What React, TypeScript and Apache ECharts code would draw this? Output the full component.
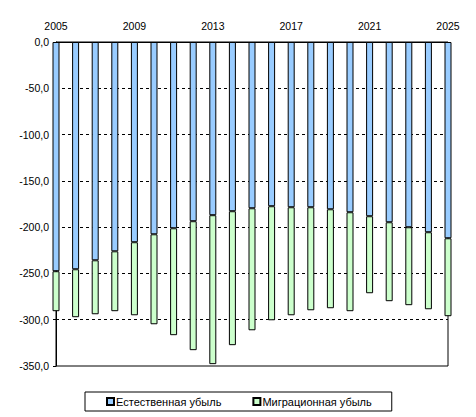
import React, { useEffect, useRef } from "react";
import * as echarts from "echarts";

const years = [
  "2005", "2006", "2007", "2008", "2009", "2010", "2011", "2012", "2013", "2014",
  "2015", "2016", "2017", "2018", "2019", "2020", "2021", "2022", "2023", "2024", "2025",
];
const naturalLoss = [
  -247.6, -245.5, -235.8, -226.1, -216.3, -207.7, -201.2, -193.6, -187.1, -182.8,
  -179.6, -177.4, -178.5, -178.5, -180.7, -183.9, -188.2, -194.7, -200.1, -205.5, -212.0,
];
const migrationLoss = [
  -43.2, -51.8, -58.3, -64.7, -78.9, -97.2, -115.5, -139.3, -160.9, -144.7,
  -131.8, -123.2, -116.7, -111.3, -106.9, -106.9, -83.2, -85.3, -84.2, -83.2, -84.2,
];
const seriesNames = ["Естественная убыль", "Миграционная убыль"];

const FONT = "'Liberation Sans', Arial, sans-serif";

export default function App() {
  const ref = useRef<HTMLDivElement>(null);
  useEffect(() => {
    if (!ref.current) return;
    const chart = echarts.init(ref.current, null, { renderer: "svg" });
    chart.setOption({
      animation: false,
      backgroundColor: "#ffffff",
      textStyle: { fontFamily: FONT, color: "#000" },
      grid: {
        left: 56,
        right: 28,
        top: 42,
        bottom: 51,
        show: true,
        borderColor: "#000",
        borderWidth: 1,
        backgroundColor: "transparent",
      },
      legend: {
        left: 85,
        top: 392,
        padding: [4, 20, 4, 21],
        itemWidth: 7,
        itemHeight: 7,
        itemGap: 31,
        borderColor: "#000",
        borderWidth: 1,
        icon: "rect",
        textStyle: { fontFamily: FONT, fontSize: 11, color: "#000", padding: [0, 0, 0, -3] },
        data: seriesNames,
      },
      xAxis: {
        type: "category",
        position: "top",
        data: years,
        boundaryGap: false,
        axisLine: { show: true, lineStyle: { color: "#000", width: 1 } },
        axisTick: { show: true, inside: true, length: 3, interval: 0, lineStyle: { color: "#000" } },
        axisLabel: {
          interval: 3,
          margin: 11,
          fontFamily: FONT,
          fontSize: 10.5,
          color: "#000",
        },
        splitLine: { show: false },
      },
      yAxis: {
        type: "value",
        min: -350,
        max: 0,
        interval: 50,
        axisLine: { show: true, lineStyle: { color: "#000", width: 1 } },
        axisTick: { show: true, length: 3, lineStyle: { color: "#000" } },
        axisLabel: {
          margin: 7,
          fontFamily: FONT,
          fontSize: 10.5,
          color: "#000",
          formatter: (v: number) => v.toFixed(1).replace(".", ","),
        },
        splitLine: {
          show: true,
          showMinLine: false,
          showMaxLine: false,
          lineStyle: { color: "#000", type: [3, 3], width: 1 },
        },
      },
      series: [
        {
          name: seriesNames[0],
          type: "bar",
          stack: "total",
          data: naturalLoss,
          barWidth: 7,
          clip: true,
          itemStyle: { color: "#99CCFF", borderColor: "#000", borderWidth: 1 },
        },
        {
          name: seriesNames[1],
          type: "bar",
          stack: "total",
          data: migrationLoss,
          barWidth: 7,
          clip: true,
          itemStyle: { color: "#CCFFCC", borderColor: "#000", borderWidth: 1 },
        },
      ],
    });
    return () => chart.dispose();
  }, []);
  return <div ref={ref} style={{ width: 476, height: 417, position: "absolute", left: 0, top: 0 }} />;
}
